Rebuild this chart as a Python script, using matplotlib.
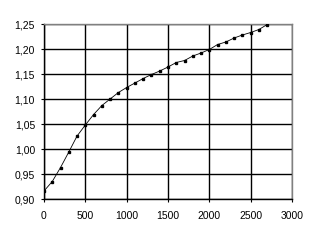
import matplotlib
matplotlib.use("Agg")
import matplotlib.pyplot as plt
from matplotlib.ticker import FuncFormatter

x_vals = [0, 100, 200, 300, 400, 500, 600, 700, 800, 900, 1000, 1100, 1200, 1300,
          1400, 1500, 1600, 1700, 1800, 1900, 2000, 2100, 2200, 2300, 2400, 2500, 2600, 2700]
y_vals = [0.916, 0.935, 0.963, 0.994, 1.026, 1.048, 1.069, 1.087, 1.100, 1.113, 1.123,
          1.132, 1.141, 1.149, 1.156, 1.164, 1.173, 1.177, 1.186, 1.192, 1.199, 1.209,
          1.214, 1.222, 1.228, 1.233, 1.239, 1.249]
x_ticks = [0, 500, 1000, 1500, 2000, 2500, 3000]
y_ticks = [0.90, 0.95, 1.00, 1.05, 1.10, 1.15, 1.20, 1.25]

plt.rcParams['font.family'] = ['Liberation Sans', 'DejaVu Sans']
fig = plt.figure(figsize=(3.21, 2.40), dpi=100)
ax = fig.add_axes([44/321, 1-199/240, (292-44)/321, (199-24)/240])

ax.plot(x_vals, y_vals, color='black', lw=0.6, marker='s', ms=1.6, mfc='black', mec='black', zorder=3)

ax.set_xlim(0, 3000)
ax.set_ylim(0.90, 1.25)
ax.set_xticks(x_ticks)
ax.set_yticks(y_ticks)
ax.yaxis.set_major_formatter(FuncFormatter(lambda v, p: f"{v:.2f}".replace('.', ',')))
ax.grid(True, color='black', lw=1.0)
ax.set_axisbelow(True)
for s in ['top', 'right']:
    ax.spines[s].set_color('#808080')
    ax.spines[s].set_linewidth(1.0)
for s in ['left', 'bottom']:
    ax.spines[s].set_color('black')
    ax.spines[s].set_linewidth(1.0)
ax.tick_params(axis='both', direction='out', length=2.5, width=0.8, labelsize=7.5, colors='black')
ax.tick_params(axis='y', pad=4)
ax.tick_params(axis='x', pad=6)

fig.savefig('out.png', dpi=100)
